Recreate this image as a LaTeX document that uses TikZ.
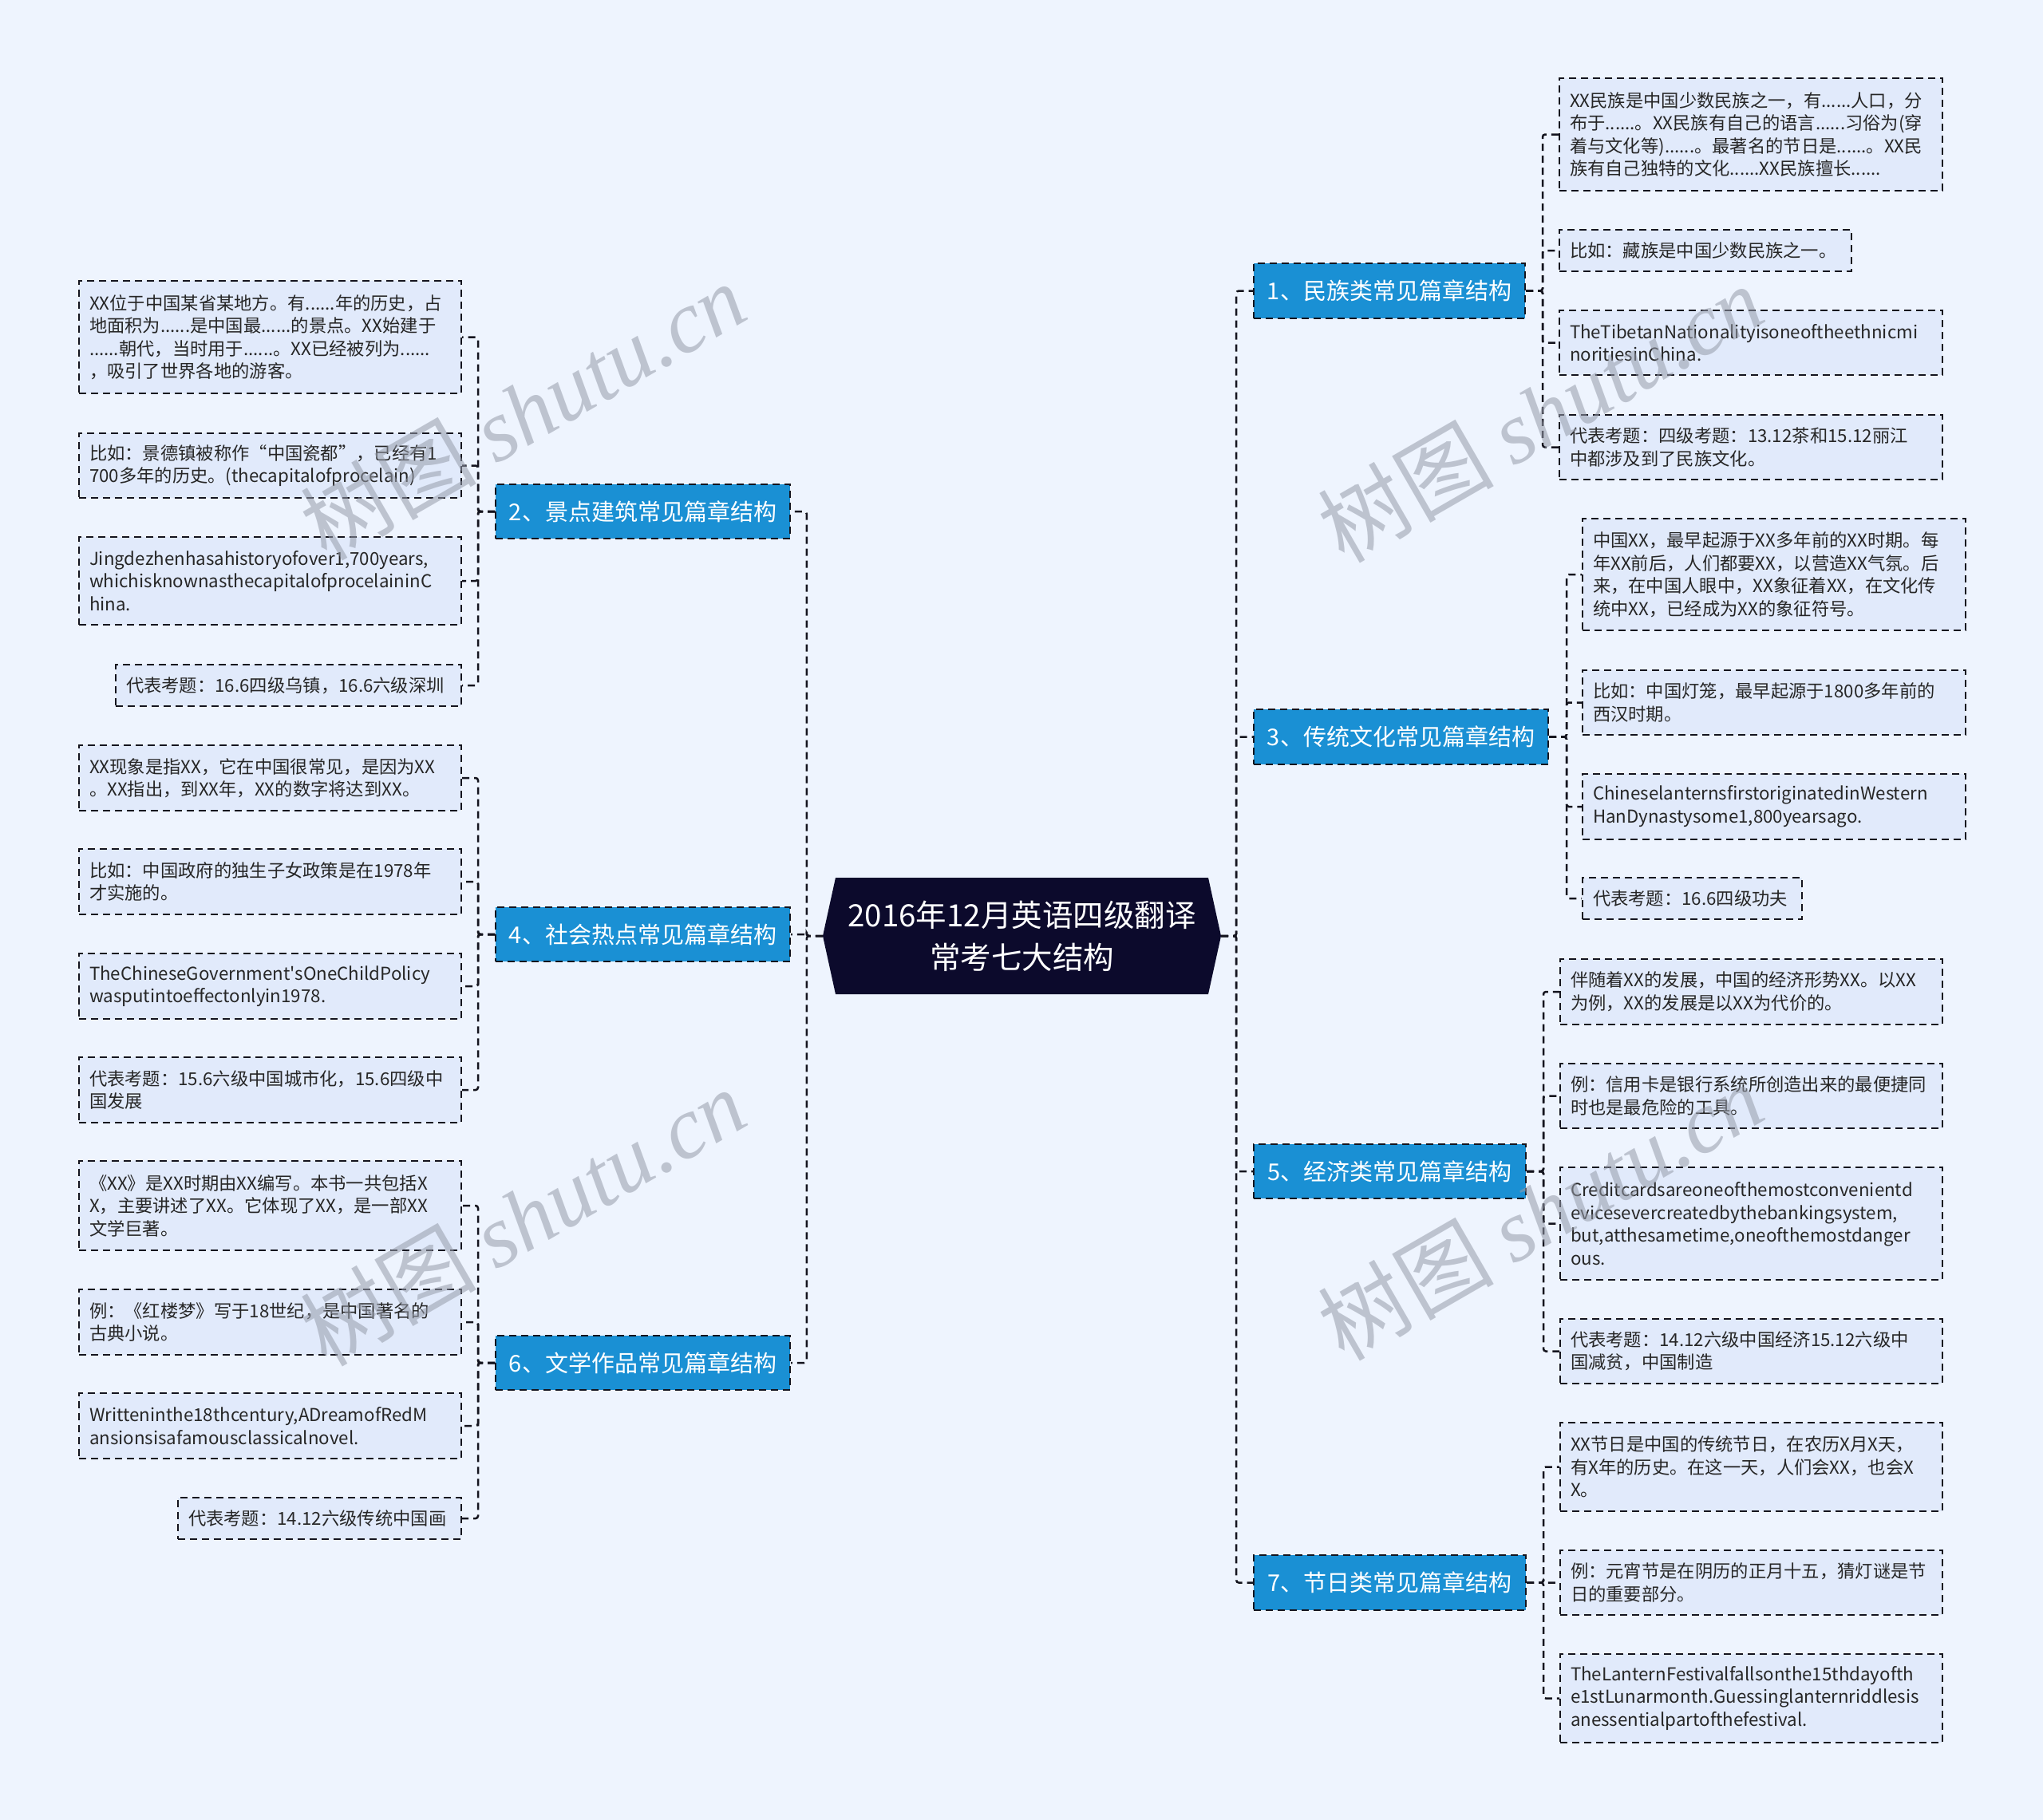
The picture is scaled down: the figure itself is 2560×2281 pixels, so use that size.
\documentclass[tikz,border=0pt]{standalone}
\usepackage{fontspec}
\setmainfont{Noto Sans CJK SC}[Ligatures=TeXOff]
\newfontfamily\wmserif{Liberation Serif}
\definecolor{bgc}{RGB}{238,244,254}
\definecolor{leaffill}{RGB}{225,234,251}
\definecolor{branchfill}{RGB}{26,144,212}
\definecolor{centerfill}{RGB}{12,10,44}
\definecolor{linec}{RGB}{20,20,30}
\definecolor{wmc}{RGB}{150,156,170}
\newcommand\leafbox[6]{%
 \pgfmathsetmacro\myBW{#4-#2}%
 \pgfmathsetmacro\myBH{#5-#3}%
 \pgfmathsetmacro\myTW{#4-#2-26}%
 \node[leaf,minimum width=\myBW pt,minimum height=\myBH pt,text width=\myTW pt,anchor=north west] (#1) at (#2,#3) {#6};}
\newcommand\branchbox[6]{%
 \pgfmathsetmacro\myBW{#4-#2}%
 \pgfmathsetmacro\myBH{#5-#3}%
 \node[branch,minimum width=\myBW pt,minimum height=\myBH pt,anchor=north west] (#1) at (#2,#3) {#6};}
\begin{document}
\begin{tikzpicture}[x=1pt,y=-1pt,
  leaf/.style={draw=linec,line width=2pt,dash pattern=on 9pt off 6pt,fill=leaffill,inner xsep=13pt,inner ysep=2pt,align=left,font=\fontsize{22.3}{28.5}\selectfont,text=black!85},
  branch/.style={draw=linec,line width=2pt,dash pattern=on 9pt off 6pt,fill=branchfill,inner sep=2pt,align=center,font=\fontsize{29}{34}\selectfont,text=white},
  conn/.style={draw=linec,line width=2.5pt,dash pattern=on 9pt off 6pt,rounded corners=3pt},
  wmstyle/.style={rotate=30,text=wmc,text opacity=0.55,font=\fontsize{110}{120}\selectfont,inner sep=0pt}]
\fill[bgc] (0,0) rectangle (2560,2281);
\useasboundingbox (0,0) rectangle (2560,2281);
% central node
\fill[centerfill] (1047,1100) -- (1514,1100) -- (1530,1173) -- (1514,1246) -- (1047,1246) -- (1031,1173) -- cycle;
\node[minimum width=499pt,minimum height=146pt,inner sep=0pt,align=center,text=white,font=\fontsize{38.5}{53}\selectfont] (c) at (1280.5,1173) {2016年12月英语四级翻译\\常考七大结构};
% branches
\branchbox{b1}{1570}{329}{1910}{398}{1、民族类常见篇章结构}
\branchbox{b2}{620}{606}{989}{674}{2、景点建筑常见篇章结构}
\branchbox{b3}{1570}{888}{1939}{957}{3、传统文化常见篇章结构}
\branchbox{b4}{620}{1136}{989}{1204}{4、社会热点常见篇章结构}
\branchbox{b5}{1570}{1433}{1911}{1501}{5、经济类常见篇章结构}
\branchbox{b6}{620}{1673}{989}{1741}{6、文学作品常见篇章结构}
\branchbox{b7}{1570}{1948}{1911}{2017}{7、节日类常见篇章结构}
% leaves of 1
\leafbox{l1a}{1953}{97}{2433}{238}{XX民族是中国少数民族之一，有......人口，分\\布于......。XX民族有自己的语言......习俗为(穿\\着与文化等)......。最著名的节日是......。XX民\\族有自己独特的文化......XX民族擅长......}
\leafbox{l1b}{1953}{287}{2319}{339}{比如：藏族是中国少数民族之一。}
\leafbox{l1c}{1953}{388}{2433}{469}{TheTibetanNationalityisoneoftheethnicmi\\noritiesinChina.}
\leafbox{l1d}{1953}{519}{2433}{600}{代表考题：四级考题：13.12茶和15.12丽江\\中都涉及到了民族文化。}
% leaves of 3
\leafbox{l3a}{1982}{649}{2462}{789}{中国XX，最早起源于XX多年前的XX时期。每\\年XX前后，人们都要XX，以营造XX气氛。后\\来，在中国人眼中，XX象征着XX，在文化传\\统中XX，已经成为XX的象征符号。}
\leafbox{l3b}{1982}{839}{2462}{920}{比如：中国灯笼，最早起源于1800多年前的\\西汉时期。}
\leafbox{l3c}{1982}{969}{2462}{1051}{ChineselanternsfirstoriginatedinWestern\\HanDynastysome1,800yearsago.}
\leafbox{l3d}{1982}{1099}{2257}{1151}{代表考题：16.6四级功夫}
% leaves of 5
\leafbox{l5a}{1954}{1201}{2433}{1283}{伴随着XX的发展，中国的经济形势XX。以XX\\为例，XX的发展是以XX为代价的。}
\leafbox{l5b}{1954}{1332}{2433}{1413}{例：信用卡是银行系统所创造出来的最便捷同\\时也是最危险的工具。}
\leafbox{l5c}{1954}{1462}{2433}{1603}{Creditcardsareoneofthemostconvenientd\\evicesevercreatedbythebankingsystem,\\but,atthesametime,oneofthemostdanger\\ous.}
\leafbox{l5d}{1954}{1652}{2433}{1733}{代表考题：14.12六级中国经济15.12六级中\\国减贫，中国制造}
% leaves of 7
\leafbox{l7a}{1954}{1782}{2433}{1893}{XX节日是中国的传统节日，在农历X月X天，\\有X年的历史。在这一天，人们会XX，也会X\\X。}
\leafbox{l7b}{1954}{1942}{2433}{2023}{例：元宵节是在阴历的正月十五，猜灯谜是节\\日的重要部分。}
\leafbox{l7c}{1954}{2072}{2433}{2183}{TheLanternFestivalfallsonthe15thdayofth\\e1stLunarmonth.Guessinglanternriddlesis\\anessentialpartofthefestival.}
% leaves of 2
\leafbox{l2a}{98}{351}{577}{492}{XX位于中国某省某地方。有......年的历史，占\\地面积为......是中国最......的景点。XX始建于\\......朝代，当时用于......。XX已经被列为......\\，吸引了世界各地的游客。}
\leafbox{l2b}{98}{542}{577}{623}{比如：景德镇被称作“中国瓷都”，已经有1\\700多年的历史。(thecapitalofprocelain)}
\leafbox{l2c}{98}{672}{577}{782}{Jingdezhenhasahistoryofover1,700years,\\whichisknownasthecapitalofprocelaininC\\hina.}
\leafbox{l2d}{144}{832}{577}{884}{代表考题：16.6四级乌镇，16.6六级深圳}
% leaves of 4
\leafbox{l4a}{98}{933}{577}{1015}{XX现象是指XX，它在中国很常见，是因为XX\\。XX指出，到XX年，XX的数字将达到XX。}
\leafbox{l4b}{98}{1063}{577}{1145}{比如：中国政府的独生子女政策是在1978年\\才实施的。}
\leafbox{l4c}{98}{1194}{577}{1276}{TheChineseGovernment's{}OneChildPolicy\\wasputintoeffectonlyin1978.}
\leafbox{l4d}{98}{1324}{577}{1406}{代表考题：15.6六级中国城市化，15.6四级中\\国发展}
% leaves of 6
\leafbox{l6a}{98}{1454}{577}{1566}{《XX》是XX时期由XX编写。本书一共包括X\\X，主要讲述了XX。它体现了XX，是一部XX\\文学巨著。}
\leafbox{l6b}{98}{1615}{577}{1697}{例：《红楼梦》写于18世纪，是中国著名的\\古典小说。}
\leafbox{l6c}{98}{1745}{577}{1827}{Writteninthe18thcentury,ADreamofRedM\\ansionsisafamousclassicalnovel.}
\leafbox{l6d}{222}{1876}{577}{1928}{代表考题：14.12六级传统中国画}
% connectors center -> branches
\foreach \b in {b2,b4,b6} \draw[conn] (c.west) -- ++(-20,0) |- (\b.east);
\foreach \b in {b1,b3,b5,b7} \draw[conn] (c.east) -- ++(19,0) |- (\b.west);
% branches -> leaves
\foreach \l in {l1a,l1b,l1c,l1d} \draw[conn] (b1.east) -- ++(21,0) |- (\l.west);
\foreach \l in {l3a,l3b,l3c,l3d} \draw[conn] (b3.east) -- ++(22,0) |- (\l.west);
\foreach \l in {l5a,l5b,l5c,l5d} \draw[conn] (b5.east) -- ++(21,0) |- (\l.west);
\foreach \l in {l7a,l7b,l7c} \draw[conn] (b7.east) -- ++(21,0) |- (\l.west);
\foreach \l in {l2a,l2b,l2c,l2d} \draw[conn] (b2.west) -- ++(-21,0) |- (\l.east);
\foreach \l in {l4a,l4b,l4c,l4d} \draw[conn] (b4.west) -- ++(-21,0) |- (\l.east);
\foreach \l in {l6a,l6b,l6c,l6d} \draw[conn] (b6.west) -- ++(-21,0) |- (\l.east);
% watermarks
\node[wmstyle] (wm1) at (655,515) {树图 {\wmserif\itshape shutu.cn}};
\node[wmstyle] (wm2) at (655,1525) {树图 {\wmserif\itshape shutu.cn}};
\node[wmstyle] (wm3) at (1930,518) {树图 {\wmserif\itshape shutu.cn}};
\node[wmstyle] (wm4) at (1930,1518) {树图 {\wmserif\itshape shutu.cn}};
\end{tikzpicture}
\end{document}
